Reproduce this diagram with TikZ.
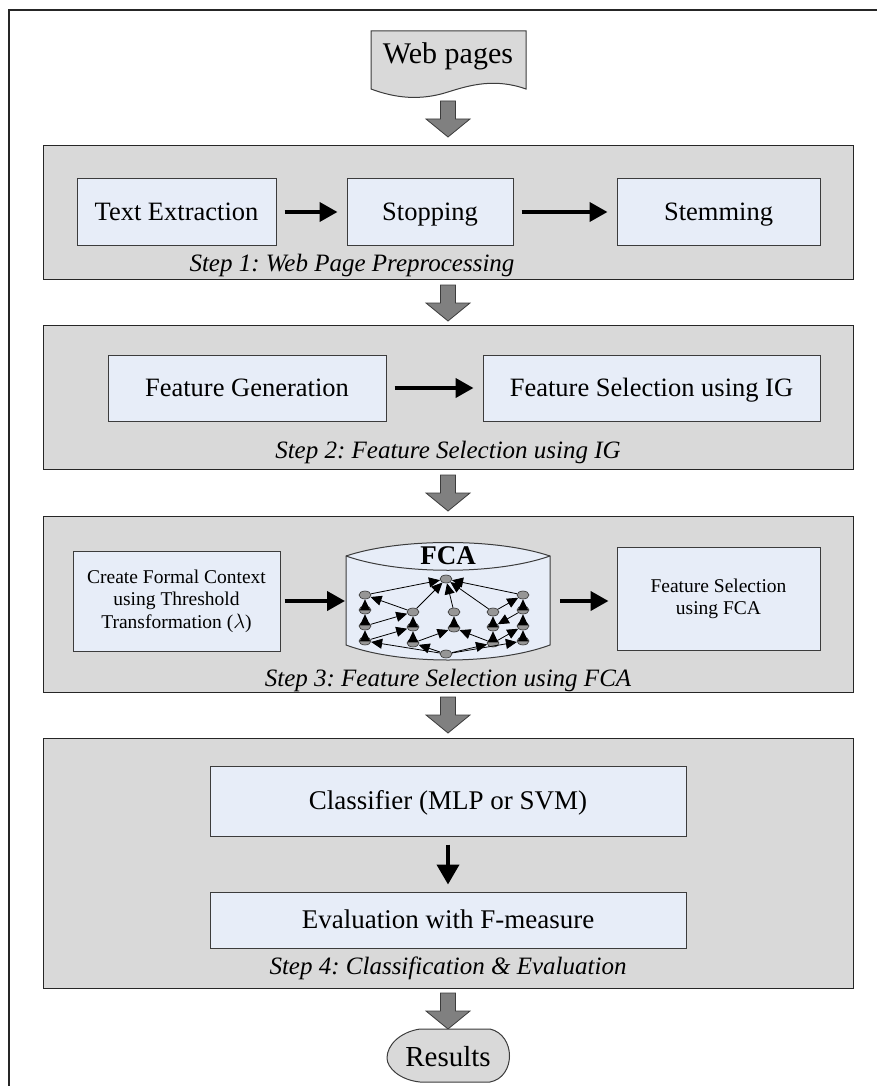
\documentclass[tikz,border=0pt]{standalone}
\usepackage{fontspec}
\setmainfont{Liberation Serif}
\frenchspacing
\usetikzlibrary{arrows.meta,shapes.geometric}
\definecolor{panelgray}{RGB}{217,217,217}
\definecolor{boxblue}{RGB}{231,237,248}
\definecolor{arrowgray}{RGB}{128,128,128}
\definecolor{edgegray}{RGB}{60,60,60}
\definecolor{nodegray}{RGB}{150,150,150}
\begin{document}
\begin{tikzpicture}[x=1pt,y=-1pt,
  panel/.style={draw=black!85, fill=panelgray, line width=1.2pt, inner sep=0pt, anchor=north west},
  stepbox/.style={draw=edgegray, fill=boxblue, line width=1pt, inner sep=0pt, align=center},
  oneline/.style={text height=19pt, text depth=3pt},
  big/.style={font=\fontsize{26.5}{30}\selectfont, oneline},
  small/.style={font=\fontsize{19.5}{22.5}\selectfont},
  mid/.style={font=\fontsize{27}{30}\selectfont, oneline},
  caption/.style={font=\fontsize{25}{28}\selectfont\itshape},
  flow/.style={line width=4pt, -{Triangle[length=18pt,width=19pt]}, shorten <=8pt, shorten >=9pt},
  flowdown/.style={line width=4pt, -{Triangle[length=20pt,width=22pt]}, shorten <=8pt, shorten >=7pt},
  lat/.style={ellipse, draw=black!80, fill=nodegray, minimum width=12pt, minimum height=8pt, inner sep=0pt, line width=0.6pt},
  latarr/.style={line width=0.8pt, -{Triangle[length=11pt,width=10pt]}},
  gdown/.pic={\path[fill=arrowgray, draw=edgegray, line width=0.8pt]
     (-7.5,0) -- (7.5,0) -- (7.5,18) -- (22,18) -- (0,36) -- (-22,18) -- (-7.5,18) -- cycle;}
]
\useasboundingbox (0,0) rectangle (877,1086);

% page frame
\draw[line width=1.5pt, black!85] (877,10) -- (9,10) -- (9,1086);

% input document
\path[fill=panelgray, draw=edgegray, line width=1pt]
  (371,31) -- (526,31) -- (526,89)
  .. controls (495,78) and (470,85) .. (448,92)
  .. controls (420,101) and (395,98) .. (371,89) -- cycle;
\node[font=\fontsize{30}{34}\selectfont] (web) at (448,56) {Web pages};
\pic at (448,101) {gdown};

% Step 1
\node[panel, minimum width=810pt, minimum height=134pt] (p1) at (43,145) {};
\node[stepbox, big, minimum width=199pt, minimum height=67pt] (te) at (176.5,212) {Text Extraction};
\node[stepbox, big, minimum width=166pt, minimum height=67pt] (st) at (430,212) {Stopping};
\node[stepbox, big, minimum width=203pt, minimum height=67pt] (sm) at (718.5,212) {Stemming};
\draw[flow] (te) -- (st);
\draw[flow] (st) -- (sm);
\node[caption] (c1) at (352,265) {Step 1: Web Page Preprocessing};
\pic at (448,285) {gdown};

% Step 2
\node[panel, minimum width=810pt, minimum height=144pt] (p2) at (43,325) {};
\node[stepbox, big, minimum width=278pt, minimum height=66pt] (fg) at (247,388) {Feature Generation};
\node[stepbox, big, minimum width=337pt, minimum height=66pt] (fs) at (651.5,388) {Feature Selection using IG};
\draw[flow] (fg) -- (fs);
\node[caption] (c2) at (448,452) {Step 2: Feature Selection using IG};
\pic at (448,475) {gdown};

% Step 3
\node[panel, minimum width=810pt, minimum height=176pt] (p3) at (43,516) {};
\node[stepbox, small, minimum width=207pt, minimum height=100pt] (cf) at (176.5,601)
  {Create Formal Context\\using Threshold\\Transformation ($\lambda$)};
\node[stepbox, small, minimum width=203pt, minimum height=103pt] (ff) at (718.5,599)
  {Feature Selection\\using FCA};

% concept lattice store
\path[fill=boxblue, draw=edgegray, line width=1pt]
  (346,556) .. controls (400,538) and (496,538) .. (550,556) -- (550,645)
  .. controls (496,665) and (400,665) .. (346,645) -- cycle;
\draw[edgegray, line width=1pt] (346,556) .. controls (400,575) and (496,575) .. (550,556);
\node[font=\fontsize{27}{30}\selectfont\bfseries] (fca) at (448,556) {FCA};
\coordinate (fcaL) at (346,601);
\coordinate (fcaR) at (550,601);
\draw[flow, shorten <=4pt, shorten >=1pt] (cf.east |- fcaL) -- (fcaL);
\draw[flow, shorten <=10pt, shorten >=8pt] (fcaR) -- (fcaR -| ff.west);

% lattice nodes
\node[lat] (t)  at (446,579) {};
\node[lat] (l1) at (365,595) {};
\node[lat] (l2) at (365,610) {};
\node[lat] (l3) at (365,626) {};
\node[lat] (l4) at (365,641) {};
\node[lat] (m1) at (413,612) {};
\node[lat] (m2) at (413,627) {};
\node[lat] (m3) at (413,643) {};
\node[lat] (k1) at (454,612) {};
\node[lat] (k2) at (454,628) {};
\node[lat] (n1) at (493,612) {};
\node[lat] (n2) at (493,627) {};
\node[lat] (n3) at (493,643) {};
\node[lat] (r1) at (523,595) {};
\node[lat] (r2) at (523,610) {};
\node[lat] (r3) at (523,626) {};
\node[lat] (r4) at (523,641) {};
\node[lat] (b)  at (446,654) {};

% lattice order relations
\foreach \a/\z in {l1/t, r1/t, m1/t, k1/t, n1/t,
                   l2/l1, l3/l2, l4/l3, m2/m1, m3/m2, k2/k1, n2/n1, n3/n2,
                   r2/r1, r3/r2, r4/r3,
                   m1/l1, l3/m1, l4/m2, m3/k2, n3/k2, n1/r1, r2/n2, n3/r3,
                   b/l4, b/m3, b/n3, b/r4}
  \draw[latarr] (\a) -- (\z);

\node[caption] (c3) at (448,680) {Step 3: Feature Selection using FCA};
\pic at (448,697) {gdown};

% Step 4
\node[panel, minimum width=810pt, minimum height=250pt] (p4) at (43,738) {};
\node[stepbox, mid, minimum width=476pt, minimum height=70pt] (cl) at (448,801) {Classifier (MLP or SVM)};
\node[stepbox, mid, minimum width=476pt, minimum height=56pt] (ev) at (448,920) {Evaluation with F-measure};
\draw[flowdown] (cl) -- (ev);
\node[caption] (c4) at (448,968) {Step 4: Classification \& Evaluation};
\pic at (448,993) {gdown};

% output terminal
\path[fill=panelgray, draw=edgegray, line width=1pt]
  (420,1029) -- (490,1029)
  .. controls (516,1035) and (516,1077) .. (490,1082) -- (420,1082)
  .. controls (400,1080) and (387,1068) .. (387,1058)
  .. controls (387,1045) and (400,1032) .. (420,1029) -- cycle;
\node[font=\fontsize{29}{33}\selectfont] (res) at (448,1057) {Results};
\end{tikzpicture}
\end{document}
